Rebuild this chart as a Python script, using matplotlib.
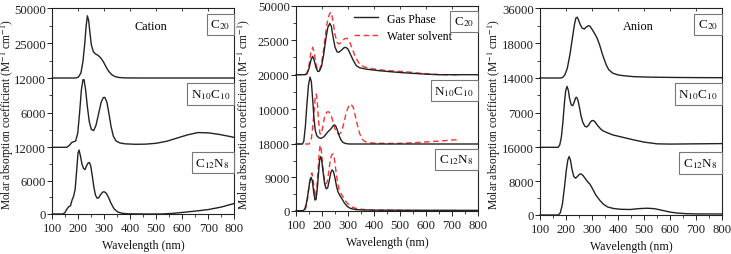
import numpy as np
import matplotlib
matplotlib.use("Agg")
import matplotlib.pyplot as plt
from matplotlib.ticker import FixedLocator, MultipleLocator

plt.rcParams['font.family'] = ['Liberation Serif', 'DejaVu Serif']
plt.rcParams['mathtext.fontset'] = 'stix'

# ---------------- data (wavelength nm, molar absorption) ----------------
# Cation
cat_c20_x = [100, 150, 190, 200, 210, 218, 225, 230, 235, 240, 245, 250, 258, 266, 276, 286, 296, 306, 316, 328, 340, 355, 375, 400, 500, 800]
cat_c20_y = [0, 0, 0, 600, 3500, 12000, 25000, 37000, 44600, 41000, 32000, 24000, 18800, 17300, 16200, 14500, 11800, 8200, 5000, 2500, 1100, 400, 100, 30, 0, 0]

cat_n10_x = [100, 155, 165, 175, 182, 190, 198, 205, 212, 218, 222, 228, 235, 242, 250, 259, 268, 278, 288, 296, 302, 310, 318, 326, 335, 345, 360, 380, 420, 460, 500, 540, 580, 620, 660, 700, 740, 780, 800]
cat_n10_y = [0, 0, 300, 850, 950, 1100, 2500, 6000, 10000, 11700, 11700, 10000, 7000, 4500, 3100, 2900, 3800, 5800, 7800, 8600, 8650, 7800, 5800, 3600, 1900, 1100, 750, 600, 520, 550, 700, 1050, 1600, 2150, 2550, 2500, 2250, 1900, 1700]

cat_c12_x = [100, 140, 148, 155, 162, 170, 176, 182, 188, 194, 199, 203, 208, 214, 220, 226, 232, 238, 243, 248, 254, 260, 266, 272, 278, 286, 294, 300, 308, 316, 326, 338, 352, 370, 390, 450, 520, 560, 600, 650, 700, 750, 800]
cat_c12_y = [0, 0, 200, 800, 1250, 1500, 2500, 3200, 4500, 8000, 11000, 11500, 10500, 9000, 8200, 8000, 8700, 9200, 9250, 8600, 6800, 4800, 3400, 2850, 2900, 3500, 3950, 4000, 3700, 3000, 1900, 900, 350, 120, 40, 0, 0, 100, 280, 520, 800, 1250, 1900]

# Neutral: gas phase and water solvent
gas_c20_x = [100, 135, 142, 150, 158, 164, 170, 177, 184, 190, 198, 206, 214, 222, 230, 236, 242, 250, 258, 265, 275, 285, 292, 300, 310, 320, 332, 345, 371, 420, 461, 500, 565, 600, 650, 800]
gas_c20_y = [0, 0, 600, 4500, 11000, 13300, 10500, 5000, 2300, 2600, 6000, 14000, 25000, 34000, 37200, 35000, 28000, 20000, 16500, 16300, 17800, 19600, 19800, 18500, 14500, 10500, 6500, 5000, 4000, 2900, 2200, 1600, 800, 400, 0, 0]

wat_c20_x = [100, 135, 142, 150, 157, 164, 170, 177, 184, 190, 198, 206, 214, 222, 230, 236, 242, 250, 258, 265, 275, 286, 296, 305, 315, 325, 335, 345, 360, 380, 400, 440, 480, 526, 570, 620, 660, 720]
wat_c20_y = [0, 0, 1000, 7000, 16000, 19800, 16000, 7500, 3000, 3200, 8000, 18000, 30000, 40000, 44500, 45200, 39000, 29000, 23500, 22200, 23500, 26000, 26400, 24500, 19500, 14500, 10500, 7700, 5800, 4800, 4100, 3200, 2600, 2100, 1200, 400, 0, 0]

gas_n10_x = [100, 125, 130, 136, 142, 148, 154, 159, 164, 169, 174, 180, 188, 196, 204, 212, 220, 228, 236, 243, 248, 253, 259, 265, 272, 280, 290, 305, 800]
gas_n10_y = [0, 0, 800, 5000, 11500, 17000, 19300, 18000, 13000, 7500, 4000, 2400, 1800, 1650, 1900, 2500, 3300, 3900, 4500, 5300, 5500, 5200, 4000, 2600, 1300, 500, 150, 0, 0]

wat_n10_x = [100, 150, 158, 164, 170, 175, 178, 182, 187, 192, 197, 203, 210, 218, 226, 234, 242, 250, 258, 266, 275, 284, 294, 304, 312, 320, 328, 336, 345, 355, 365, 378, 400, 450, 500, 550, 600, 650, 700, 720]
wat_n10_y = [0, 0, 1000, 4500, 10000, 14000, 14400, 12000, 6500, 3000, 2800, 5000, 8000, 9200, 9300, 8500, 6500, 4300, 3100, 2800, 3500, 6000, 9300, 11200, 11450, 10600, 8200, 5500, 3000, 1400, 700, 400, 250, 150, 200, 350, 600, 850, 1150, 1250]

gas_c12_x = [100, 128, 134, 140, 146, 152, 158, 163, 168, 173, 177, 182, 187, 191, 195, 199, 204, 210, 216, 222, 228, 234, 239, 244, 250, 256, 262, 268, 276, 286, 298, 310, 330, 360, 400, 500, 600, 800]
gas_c12_y = [0, 0, 500, 2000, 4500, 7500, 9000, 8000, 5000, 2900, 3000, 6000, 10500, 13800, 14600, 13500, 10500, 7300, 5900, 6200, 8200, 10300, 11000, 10600, 8800, 6500, 5000, 4200, 3300, 2100, 1100, 600, 300, 200, 150, 120, 100, 100]

wat_c12_x = [100, 132, 138, 144, 150, 156, 161, 166, 171, 175, 180, 185, 189, 193, 197, 202, 208, 214, 220, 226, 232, 238, 243, 248, 254, 260, 266, 274, 282, 292, 304, 318, 332, 360, 400, 500, 600, 720]
wat_c12_y = [0, 0, 800, 3000, 6500, 9200, 10200, 8500, 5000, 3700, 6000, 11000, 15500, 17700, 16500, 12800, 8800, 7200, 7800, 10500, 13800, 15200, 15300, 13800, 10500, 7500, 5600, 4500, 3600, 2500, 1500, 900, 600, 300, 150, 100, 50, 50]

# Anion
an_c20_x = [100, 180, 187, 195, 205, 215, 225, 233, 238, 243, 248, 255, 262, 270, 278, 286, 292, 300, 310, 320, 330, 340, 350, 356, 365, 380, 400, 420, 460, 520, 600, 700, 800]
an_c20_y = [0, 0, 300, 1500, 5000, 12000, 21000, 28000, 31000, 31400, 30000, 27500, 25800, 25300, 26300, 27000, 26800, 25200, 23000, 20500, 16800, 12300, 8500, 6400, 4200, 2500, 1600, 1200, 700, 450, 300, 200, 150]

an_n10_x = [100, 170, 176, 182, 188, 194, 199, 204, 209, 214, 220, 226, 232, 237, 241, 246, 252, 258, 265, 272, 279, 286, 294, 300, 306, 312, 320, 330, 340, 356, 380, 420, 460, 500, 550, 600, 700, 800]
an_n10_y = [0, 0, 500, 2000, 5000, 9000, 11500, 12300, 11500, 9800, 8600, 8400, 9200, 10000, 10100, 9500, 8000, 6300, 5000, 4300, 4100, 4400, 5100, 5400, 5400, 5100, 4500, 3900, 3400, 3000, 2500, 2000, 1500, 1050, 700, 650, 700, 750]

an_c12_x = [100, 170, 178, 186, 194, 201, 207, 212, 217, 223, 230, 237, 244, 251, 258, 266, 274, 284, 292, 302, 315, 331, 345, 360, 382, 410, 446, 480, 510, 540, 570, 600, 626, 660, 700, 800]
an_c12_y = [0, 0, 500, 2500, 6500, 10500, 13000, 13800, 13000, 10800, 9100, 8700, 9100, 9600, 9700, 9300, 8600, 7800, 7300, 6200, 4700, 3400, 2500, 1900, 1550, 1350, 1300, 1500, 1600, 1500, 1100, 700, 470, 320, 250, 240]

# subpanel y-limits (bottom, middle, top) and tick labels
cat_lims = [12000, 12000, 50000]
cat_ticks = [[0, 6000, 12000], [6000, 12000], [25000, 50000]]
neu_lims = [18000, 20000, 50000]
neu_ticks = [[0, 9000, 18000], [10000, 20000], [25000, 50000]]
an_lims = [16000, 14000, 36000]
an_ticks = [[0, 8000, 16000], [7000, 14000], [18000, 36000]]

species = ["C$_{12}$N$_{8}$", "N$_{10}$C$_{10}$", "C$_{20}$"]
xticks = [100, 200, 300, 400, 500, 600, 700, 800]

W, H = 731, 255
fig = plt.figure(figsize=(W / 100, H / 100), dpi=100)

FS = 9.2
LC = '#222222'
RED = '#ff3030'


def px_axes(left, right, top, bottom):
    return fig.add_axes([left / W, (H - bottom) / H, (right - left) / W, (bottom - top) / H])


def make_panel(left, right, top, b1, b2, bottom, lims, ticks, ylab_x):
    tops = [b2, b1, top]
    bots = [bottom, b2, b1]
    axs = []
    for i in range(3):
        ax = px_axes(left, right, tops[i], bots[i])
        ax.set_xlim(100, 800)
        ax.set_ylim(0, lims[i])
        ax.yaxis.set_major_locator(FixedLocator(ticks[i]))
        step = ticks[i][1] - ticks[i][0] if len(ticks[i]) > 2 else ticks[i][0]
        ax.yaxis.set_minor_locator(MultipleLocator(step / 2))
        ax.xaxis.set_major_locator(FixedLocator(xticks))
        ax.xaxis.set_minor_locator(MultipleLocator(50))
        ax.tick_params(axis='y', which='major', direction='out', length=3.5, width=0.7,
                       labelsize=FS, pad=1.0, colors=LC)
        ax.tick_params(axis='y', which='minor', direction='out', length=2, width=0.6, colors=LC)
        ax.tick_params(axis='y', right=False, which='both')
        for s in ax.spines.values():
            s.set_linewidth(0.8)
            s.set_color(LC)
        if i == 0:
            ax.spines['top'].set_visible(False)
            ax.tick_params(axis='x', which='major', direction='out', length=3.5, width=0.7,
                           labelsize=FS, pad=2.5, colors=LC)
            ax.tick_params(axis='x', which='minor', direction='out', length=2, width=0.6, colors=LC)
        elif i == 1:
            ax.spines['top'].set_visible(False)
            ax.spines['bottom'].set_visible(False)
            ax.tick_params(axis='x', which='both', bottom=False, labelbottom=False)
        else:
            ax.spines['bottom'].set_visible(False)
            ax.tick_params(axis='x', which='both', bottom=False, labelbottom=False,
                           top=True, direction='in', length=2.5, width=0.6, colors=LC)
            ax.tick_params(axis='x', which='minor', top=False)
        ax.patch.set_alpha(0)
        ax.text(0.978, 0.87, species[i], transform=ax.transAxes, ha='right', va='top',
                fontsize=9.5, color='#111111',
                bbox=dict(boxstyle='square,pad=0.28', fc='white', ec='#777777', lw=0.8))
        axs.append(ax)
    axs[0].set_xlabel("Wavelength (nm)", fontsize=8.6, labelpad=3.5, color='#111111')
    fig.text(ylab_x / W, 1 - 114 / H,
             "Molar absorption coefficient (M$^{-1}$ cm$^{-1}$)",
             rotation=90, ha='center', va='center', fontsize=8.3, color='#111111')
    return axs


kw = dict(color=LC, lw=1.0, clip_on=False)
dash = dict(color=RED, lw=1.0, ls=(0, (4, 2.5)), clip_on=False)

# Cation
a = make_panel(52.3, 234.3, 9.3, 79, 148.3, 215, cat_lims, cat_ticks, 7.3)
a[0].plot(cat_c12_x, cat_c12_y, **kw)
a[1].plot(cat_n10_x, cat_n10_y, **kw)
a[2].plot(cat_c20_x, cat_c20_y, **kw)
a[2].text(0.54, 0.74, "Cation", transform=a[2].transAxes, ha='center', va='center', fontsize=8.8)

# Neutral
b = make_panel(296, 478, 6.7, 75.7, 145, 211.7, neu_lims, neu_ticks, 244)
b[0].plot(wat_c12_x, wat_c12_y, **dash)
b[0].plot(gas_c12_x, gas_c12_y, **kw)
b[1].plot(wat_n10_x, wat_n10_y, **dash)
b[1].plot(gas_n10_x, gas_n10_y, **kw)
wl, = b[2].plot(wat_c20_x, wat_c20_y, **dash)
gl, = b[2].plot(gas_c20_x, gas_c20_y, **kw)
b[2].legend([gl, wl], ["Gas Phase", "Water solvent"], loc='upper left',
            bbox_to_anchor=(0.32, 0.9), frameon=False, fontsize=8.5,
            handlelength=2.0, handletextpad=0.8, labelspacing=0.45, borderaxespad=0,
            borderpad=0)

# Anion
c = make_panel(540, 722, 9.3, 79, 148.3, 216, an_lims, an_ticks, 494)
c[0].plot(an_c12_x, an_c12_y, **kw)
c[1].plot(an_n10_x, an_n10_y, **kw)
c[2].plot(an_c20_x, an_c20_y, **kw)
c[2].text(0.54, 0.74, "Anion", transform=c[2].transAxes, ha='center', va='center', fontsize=8.8)

fig.savefig("out.png", dpi=100)
